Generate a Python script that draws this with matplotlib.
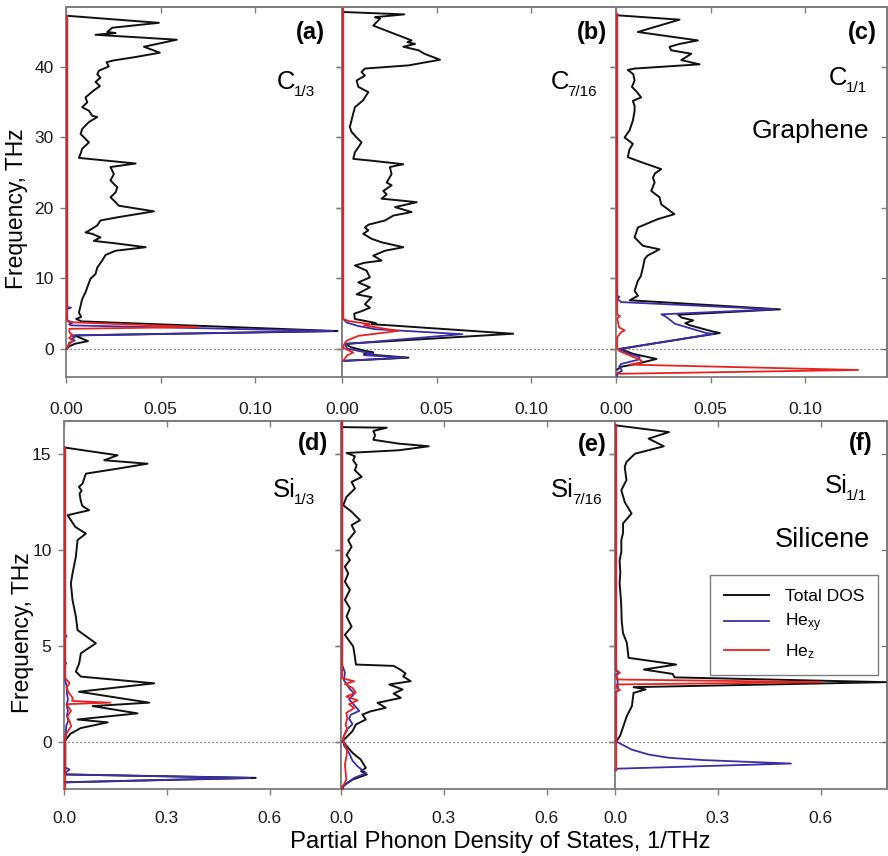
import matplotlib
matplotlib.use("Agg")
import matplotlib.pyplot as plt
from matplotlib import transforms
from matplotlib.lines import Line2D

plt.rcParams["font.family"] = ["Liberation Sans", "DejaVu Sans"]
plt.rcParams["mathtext.fontset"] = "custom"
plt.rcParams["mathtext.rm"] = "Liberation Sans"
plt.rcParams["mathtext.it"] = "Liberation Sans:italic"
plt.rcParams["mathtext.bf"] = "Liberation Sans:bold"

# ---------------- data: frequency (THz) and partial DOS (1/THz) ----------------
# (a) C 1/3
a_total_f = [47.3, 46.3, 45.6, 45.0, 44.85, 44.6, 43.9, 42.9, 42.05, 41.4, 40.96, 40.7, 40.1, 39.5,
             38.97, 38.5, 37.9, 37.3, 36.7, 35.7, 35.0, 34.3, 33.8, 33.1, 32.9, 32.2, 31.2, 30.5,
             29.3, 28.4, 27.7, 27.1, 26.3, 25.8, 24.8, 23.9, 22.9, 22.2, 21.5, 20.8, 20.3, 19.5,
             18.65, 18.2, 17.5, 16.75, 16.5, 16.3, 15.8, 15.3, 14.95, 14.4, 13.9, 13.3, 12.5, 11.5,
             10.6, 9.9, 8.9, 8.0, 7.0, 6.1, 5.1, 4.5, 4.2, 3.86, 2.48, 1.86, 1.05, 0.67, 0.3, 0.0]
a_total_v = [0.0, 0.0485, 0.0238, 0.0212, 0.0256, 0.015, 0.058, 0.0406, 0.049, 0.0353, 0.0247, 0.0208,
             0.022, 0.0168, 0.0159, 0.0176, 0.015, 0.0173, 0.0141, 0.0097, 0.0106, 0.0079, 0.0115,
             0.0132, 0.0159, 0.0115, 0.0079, 0.0071, 0.0115, 0.0079, 0.0071, 0.0062, 0.0362, 0.0229,
             0.0247, 0.0229, 0.0265, 0.0256, 0.0229, 0.0256, 0.0273, 0.0459, 0.0265, 0.0176, 0.0159,
             0.0115, 0.0097, 0.0132, 0.0176, 0.0141, 0.0256, 0.0415, 0.0256, 0.0203, 0.0185, 0.0159,
             0.015, 0.0123, 0.0109, 0.0097, 0.0079, 0.0071, 0.0062, 0.0074, 0.0048, 0.0074, 0.143,
             0.004, 0.011, 0.004, 0.001, 0.0]
a_xy_f = [47.3, 5.9, 5.8, 5.6, 4.0, 3.7, 3.45, 3.29, 2.48, 1.86, 1.6, 1.35, 1.15, 0.8, 0.0]
a_xy_v = [0.0, 0.0, 0.002, 0.0, 0.0, 0.003, 0.001, 0.002, 0.1406, 0.002, 0.004, 0.002, 0.004, 0.001, 0.0]
a_z_f = [47.3, 4.0, 3.75, 3.05, 2.8, 2.4, 2.1, 1.86, 1.5, 1.1, 0.6, 0.0]
a_z_v = [0.0, 0.0, 0.001, 0.069, 0.0012, 0.001, 0.002, 0.003, 0.001, 0.003, 0.001, 0.0]

# (b) C 7/16
b_total_f = [47.84, 47.5, 47.1, 46.9, 45.9, 43.8, 43.55, 43.3, 42.9, 42.4, 41.9, 41.05, 40.25, 39.8,
             39.3, 38.8, 38.1, 37.2, 36.45, 35.7, 35.3, 34.3, 33.4, 31.5, 30.8, 30.0, 29.3, 28.6,
             27.9, 26.96, 26.7, 26.2, 25.8, 24.8, 23.6, 23.2, 22.4, 21.9, 21.3, 21.0, 20.8, 20.1,
             19.4, 18.9, 18.2, 17.6, 17.2, 16.8, 16.3, 15.6, 15.1, 14.4, 13.9, 13.2, 12.5, 12.2,
             11.8, 11.06, 10.1, 9.4, 8.7, 7.7, 7.3, 6.3, 5.8, 5.3, 4.95, 4.2, 3.62, 3.45, 3.3, 2.1,
             0.67, 0.2, -0.3, -0.55, -0.8, -1.3, -1.75]
b_total_v = [0.0, 0.0323, 0.0168, 0.0195, 0.0159, 0.0362, 0.034, 0.038, 0.0318, 0.0398, 0.043, 0.0512,
             0.0345, 0.0115, 0.0097, 0.0115, 0.0071, 0.008, 0.0133, 0.0115, 0.0106, 0.0062, 0.0053,
             0.0035, 0.0044, 0.0071, 0.0097, 0.008, 0.0062, 0.0053, 0.015, 0.0318, 0.0247, 0.0256,
             0.023, 0.0256, 0.0212, 0.023, 0.0203, 0.0318, 0.0389, 0.0274, 0.0362, 0.0265, 0.0221,
             0.0133, 0.0115, 0.0133, 0.0106, 0.015, 0.0203, 0.0318, 0.0221, 0.0159, 0.0203, 0.0115,
             0.0062, 0.0124, 0.0141, 0.008, 0.0141, 0.0071, 0.015, 0.0115, 0.0141, 0.0097, 0.0058,
             0.0062, 0.0173, 0.015, 0.0243, 0.0899, 0.001, 0.004, 0.011, 0.016, 0.011, 0.0345, 0.001]
b_xy_f = [47.84, 4.2, 3.7, 3.2, 2.75, 2.04, 0.62, 0.0, -0.4, -0.75, -0.95, -1.3, -1.75]
b_xy_v = [0.0, 0.0, 0.0018, 0.008, 0.0168, 0.063, 0.001, 0.002, 0.009, 0.016, 0.011, 0.033, 0.0]
b_z_f = [48.3, 4.2, 3.9, 3.46, 3.3, 3.1, 2.5, 1.8, 1.1, 0.6, 0.1, -0.57, -1.0, -1.76]
b_z_v = [0.0, 0.0, 0.003, 0.0141, 0.011, 0.0155, 0.0291, 0.008, 0.0018, 0.0005, 0.0, 0.0053, 0.002, 0.0]

# (c) C 1/1, graphene
c_total_f = [47.37, 46.75, 45.0, 43.8, 43.3, 42.9, 42.4, 41.9, 41.0, 40.4, 39.8, 39.6, 39.0, 38.1,
             37.2, 36.5, 35.7, 35.2, 34.5, 33.8, 32.4, 31.0, 30.0, 29.1, 28.3, 27.2, 26.5, 25.5,
             24.9, 24.3, 23.6, 22.4, 21.5, 20.5, 19.1, 18.4, 17.2, 15.8, 14.6, 14.1, 13.2, 12.7,
             11.5, 10.3, 9.6, 8.2, 7.5, 6.86, 5.57, 4.8, 4.4, 4.0, 3.6, 3.3, 2.4, 2.2, -0.05, -0.76,
             -1.48, -2.19, -2.6, -3.0]
c_total_v = [0.0, 0.033, 0.0109, 0.0427, 0.033, 0.0277, 0.0285, 0.0392, 0.0339, 0.0436, 0.0092,
             0.0056, 0.0085, 0.0092, 0.0078, 0.0103, 0.0127, 0.0083, 0.0092, 0.0092, 0.0083, 0.0065,
             0.0039, 0.0083, 0.0065, 0.0056, 0.0127, 0.0233, 0.02, 0.0189, 0.0198, 0.018, 0.0224,
             0.0233, 0.0303, 0.0215, 0.0109, 0.0092, 0.0136, 0.0224, 0.016, 0.0145, 0.0136, 0.0125,
             0.0109, 0.0092, 0.011, 0.0067, 0.0861, 0.0323, 0.034, 0.0402, 0.036, 0.0385, 0.0508,
             0.0543, 0.0014, 0.0085, 0.0208, 0.0102, 0.002, 0.0]
c_xy_f = [47.37, 7.5, 7.35, 7.1, 6.6, 5.57, 4.86, 4.48, 3.52, 2.19, 2.1, -0.1, -0.7, -1.24, -1.6, -2.2,
          -2.6, -2.9, -3.2, -3.5, -3.9]
c_xy_v = [0.0, 0.0, 0.0012, 0.0, 0.002, 0.0835, 0.0234, 0.026, 0.0305, 0.0473, 0.0508, 0.001, 0.006,
          0.012, 0.011, 0.002, 0.001, 0.002, 0.0025, 0.0, 0.0]
c_z_f = [47.6, 4.8, 4.6, 4.3, 3.0, 2.57, 2.3, 1.6, 0.2, -0.33, -1.28, -1.71, -2.0, -2.29, -3.05, -3.6]
c_z_v = [0.0, 0.0, 0.0015, 0.0, 0.001, 0.004, 0.002, 0.0, 0.0, 0.0009, 0.0092, 0.0129, 0.0124, 0.0067,
         0.1275, 0.0]

# (d) Si 1/3
d_total_f = [15.35, 14.95, 14.69, 14.51, 14.25, 13.99, 13.47, 13.3, 13.1, 12.95, 12.6, 12.3, 12.08,
             11.82, 11.6, 11.2, 10.86, 10.52, 9.65, 8.78, 8.26, 7.39, 6.52, 5.82, 5.13, 4.61, 4.08,
             3.65, 3.39, 3.04, 2.6, 2.03, 1.85, 1.47, 1.15, 1.0, 0.7, 0.4, 0.05, -1.72, -1.9, -2.13]
d_total_v = [0.0, 0.1527, 0.1138, 0.2402, 0.1527, 0.0603, 0.0506, 0.04, 0.048, 0.042, 0.045, 0.05,
             0.07, 0.0068, 0.015, 0.03, 0.0603, 0.036, 0.0311, 0.0214, 0.0165, 0.0214, 0.0311, 0.036,
             0.0895, 0.0457, 0.0408, 0.0311, 0.0457, 0.2597, 0.04, 0.245, 0.08, 0.211, 0.036, 0.124,
             0.045, 0.015, 0.0, 0.0, 0.556, 0.0]
d_xy_f = [15.35, 5.6, 5.5, 5.4, 4.15, 4.1, 4.0, 3.2, 2.9, 2.5, 2.2, 1.9, 1.6, 1.35, 1.1, 0.8, 0.0,
          -1.35, -1.46, -1.6, -1.72, -1.9, -2.13, -2.2]
d_xy_v = [0.0, 0.0, 0.004, 0.0, 0.0, 0.003, 0.0, 0.0, 0.004, 0.005, 0.008, 0.004, 0.008, 0.005, 0.009,
          0.003, 0.0, 0.0, 0.0126, 0.003, 0.0, 0.54, 0.0, 0.0]
d_z_f = [15.35, 3.3, 3.07, 2.8, 2.5, 2.28, 2.12, 2.03, 1.95, 1.6, 1.3, 1.1, 0.8, 0.4, 0.0, -2.48]
d_z_v = [0.0, 0.0, 0.0126, 0.004, 0.012, 0.022, 0.02, 0.132, 0.004, 0.017, 0.006, 0.012, 0.0175, 0.003,
         0.0, 0.0]

# (e) Si 7/16
e_total_f = [16.42, 16.39, 16.22, 15.99, 15.76, 15.56, 15.42, 15.21, 15.07, 14.9, 14.69, 14.43, 14.17,
             13.82, 13.56, 13.21, 12.78, 12.34, 12.0, 11.56, 11.3, 10.95, 10.52, 10.17, 9.74, 9.48,
             9.13, 8.78, 8.35, 7.92, 7.4, 6.96, 6.53, 6.0, 5.57, 4.97, 4.44, 4.02, 3.95, 3.75, 3.55,
             3.4, 3.15, 2.98, 2.72, 2.5, 2.28, 2.02, 1.76, 1.58, 1.41, 1.15, 0.89, 0.54, 0.02, -0.59,
             -0.94, -1.38, -1.55, -1.72, -1.99, -2.3, -2.48]
e_total_v = [0.0, 0.13, 0.091, 0.096, 0.091, 0.164, 0.2526, 0.1645, 0.0127, 0.037, 0.032, 0.042, 0.037,
             0.0568, 0.0274, 0.0372, 0.0127, 0.003, 0.0274, 0.0519, 0.0274, 0.0372, 0.0176, 0.0274,
             0.0127, 0.0225, 0.0078, 0.0176, 0.0078, 0.0225, 0.0078, 0.0225, 0.0127, 0.0274, 0.0078,
             0.032, 0.037, 0.04, 0.15, 0.17, 0.185, 0.178, 0.2, 0.137, 0.176, 0.15, 0.171, 0.103,
             0.127, 0.0835, 0.059, 0.069, 0.04, 0.03, 0.001, 0.03, 0.054, 0.069, 0.055, 0.072, 0.03,
             0.005, 0.0]
e_xy_f = [16.74, 4.0, 3.6, 3.2, 2.8, 2.5, 2.2, 1.9, 1.6, 1.4, 1.2, 0.9, 0.6, 0.2, -0.2, -0.6, -1.0,
          -1.3, -1.65, -1.9, -2.1, -2.35, -2.48]
e_xy_v = [0.0, 0.0, 0.008, 0.005, 0.02, 0.035, 0.02, 0.035, 0.05, 0.025, 0.02, 0.03, 0.012, 0.003,
          0.005, 0.02, 0.03, 0.045, 0.07, 0.035, 0.02, 0.0, 0.0]
e_z_f = [16.74, 3.3, 3.15, 3.0, 2.8, 2.55, 2.35, 2.15, 1.95, 1.75, 1.5, 1.2, 0.9, 0.6, 0.3, 0.0, -0.4,
         -0.8, -1.2, -1.6, -2.0, -2.4, -2.48]
e_z_v = [0.0, 0.0, 0.035, 0.008, 0.03, 0.04, 0.012, 0.045, 0.02, 0.035, 0.012, 0.015, 0.01, 0.015,
         0.005, 0.003, 0.015, 0.012, 0.008, 0.01, 0.012, 0.0, 0.0]

# (f) Si 1/1, silicene
f_total_f = [16.51, 16.16, 15.82, 15.42, 15.03, 14.6, 14.34, 13.65, 13.13, 12.5, 11.91, 11.39, 10.9,
             10.52, 9.9, 9.48, 8.8, 8.26, 7.6, 7.05, 6.3, 5.66, 5.16, 4.37, 4.02, 3.76, 3.53, 3.35,
             3.1, 2.84, 2.72, 2.54, 1.85, 1.33, 0.8, 0.28, 0.0]
f_total_v = [0.0, 0.154, 0.0945, 0.139, 0.0547, 0.0299, 0.0249, 0.0299, 0.0149, 0.025, 0.0448, 0.0199,
             0.02, 0.0149, 0.015, 0.01, 0.012, 0.01, 0.013, 0.0149, 0.016, 0.0199, 0.031, 0.036,
             0.175, 0.0806, 0.165, 0.17, 0.787, 0.0507, 0.0856, 0.0507, 0.0458, 0.031, 0.021, 0.011,
             0.0]
f_xy_f = [16.51, 3.7, 3.6, 3.5, 3.25, 3.0, 2.7, 2.6, 0.0, -0.42, -0.68, -0.85, -0.97, -1.15, -1.42, -1.5]
f_xy_v = [0.0, 0.0, 0.006, 0.0, 0.004, 0.004, 0.006, 0.0, 0.0, 0.045, 0.0945, 0.154, 0.254, 0.51, 0.0,
          0.0]
f_z_f = [16.51, 3.75, 3.59, 3.45, 3.24, 3.1, 2.98, 2.8, 2.7, 2.6, -1.5]
f_z_v = [0.0, 0.0, 0.011, 0.0, 0.001, 0.598, 0.001, 0.0, 0.011, 0.0, 0.0]

top_xticks = [0.0, 0.05, 0.10]
top_xticklabels = ["0.00", "0.05", "0.10"]
bot_xticks = [0.0, 0.3, 0.6]
bot_xticklabels = ["0.0", "0.3", "0.6"]
top_yticks = [0, 10, 20, 30, 40]
bot_yticks = [0, 5, 10, 15]
panel_tags = ["(a)", "(b)", "(c)", "(d)", "(e)", "(f)"]
panel_elements = ["C", "C", "C", "Si", "Si", "Si"]
panel_fractions = ["1/3", "7/16", "1/1", "1/3", "7/16", "1/1"]
legend_labels = ["Total DOS", r"He$_{\mathrm{xy}}$", r"He$_{\mathrm{z}}$"]

# ---------------- figure ----------------
W, H = 888, 856
fig = plt.figure(figsize=(W / 100, H / 100), dpi=100)

SPINE = "#7d7d7d"
C_TOT, C_XY, C_Z = "#111111", "#3a2fa8", "#e8231f"


def ftext(x, y, s, **kw):
    return fig.text(x / W, 1 - y / H, s, **kw)


def make_axes(x0, x1, y0, y1):
    return fig.add_axes([x0 / W, 1 - y1 / H, (x1 - x0) / W, (y1 - y0) / H])


# column edges (px) and row edges (px)
top_cols = [66, 342, 616, 887]
bot_cols = [64, 341, 615, 887]
top_rows = (7, 377)
bot_rows = (421, 789)
top_px_per_unit = 94.5 / 0.05
bot_px_per_unit = 102.8 / 0.3
top_ylim = (-4.05, 48.55)
bot_ylim = (-2.48, 16.74)

series = [
    (a_total_f, a_total_v, a_xy_f, a_xy_v, a_z_f, a_z_v),
    (b_total_f, b_total_v, b_xy_f, b_xy_v, b_z_f, b_z_v),
    (c_total_f, c_total_v, c_xy_f, c_xy_v, c_z_f, c_z_v),
    (d_total_f, d_total_v, d_xy_f, d_xy_v, d_z_f, d_z_v),
    (e_total_f, e_total_v, e_xy_f, e_xy_v, e_z_f, e_z_v),
    (f_total_f, f_total_v, f_xy_f, f_xy_v, f_z_f, f_z_v),
]

axes = []
for i in range(6):
    row = i // 3
    col = i % 3
    cols = top_cols if row == 0 else bot_cols
    rows = top_rows if row == 0 else bot_rows
    ax = make_axes(cols[col], cols[col + 1], rows[0], rows[1])
    axes.append(ax)
    ppu = top_px_per_unit if row == 0 else bot_px_per_unit
    ax.set_xlim(0, (cols[col + 1] - cols[col]) / ppu)
    ax.set_ylim(*(top_ylim if row == 0 else bot_ylim))

    tf, tv, xf, xv, zf, zv = series[i]
    shift = transforms.offset_copy(ax.transData, fig=fig, x=1.2, y=0, units="dots")
    ax.plot(tv, tf, color=C_TOT, lw=1.4, zorder=3, transform=shift, clip_on=False)
    ax.plot(xv, xf, color=C_XY, lw=1.3, zorder=4, transform=shift, clip_on=False)
    ax.plot(zv, zf, color=C_Z, lw=1.3, zorder=5, transform=shift, clip_on=False)
    ax.axhline(0, color="#555555", lw=0.9, ls=(0, (1, 2.2)), zorder=2)

    xt = top_xticks if row == 0 else bot_xticks
    xl = top_xticklabels if row == 0 else bot_xticklabels
    yt = top_yticks if row == 0 else bot_yticks
    ax.set_xticks(xt)
    ax.set_xticklabels(xl)
    ax.set_yticks(yt)
    if col == 0:
        ax.set_yticklabels([str(v) for v in yt])
    else:
        ax.set_yticklabels([])
    ax.tick_params(axis="both", direction="out", length=4, width=1.0, color=SPINE,
                   labelsize=12.5, labelcolor="#1a1a1a")
    ax.tick_params(axis="x", pad=14 if row == 0 else 11.5)
    ax.tick_params(axis="y", pad=5)
    for s in ax.spines.values():
        s.set_color(SPINE)
        s.set_linewidth(1.3)

    sx = ax.secondary_xaxis("top")
    sx.set_xticks(xt)
    sx.tick_params(direction="in", length=4, width=1.0, color=SPINE, labeltop=False)
    sx.spines["top"].set_color(SPINE)
    sx.spines["top"].set_linewidth(1.3)
    sy = ax.secondary_yaxis("right")
    sy.set_yticks(yt)
    sy.tick_params(direction="in", length=4, width=1.0, color=SPINE, labelright=False)
    sy.spines["right"].set_color(SPINE)
    sy.spines["right"].set_linewidth(1.3)

# panel tags (bold)
tag_pos = [(325, 33), (607, 32), (877, 32), (328, 443), (607, 444), (872, 443)]
for (x, y), t in zip(tag_pos, panel_tags):
    ftext(x, y, t, fontsize=17, fontweight="bold", ha="right", va="center")

# composition labels: element symbol with a small lowered fraction
renderer = fig.canvas.get_renderer()
name_pos = [(315, 89), (597, 89), (867, 85), (315, 497), (602, 497), (867, 493)]
for (x, y), el, fr in zip(name_pos, panel_elements, panel_fractions):
    sub = ftext(x, y + 7, fr, fontsize=11, ha="right", va="baseline")
    sub_w = sub.get_window_extent(renderer).width
    ftext(x - sub_w + 1.5, y, el, fontsize=18.5, ha="right", va="baseline")

ftext(869, 138, "Graphene", fontsize=19, ha="right", va="baseline")
ftext(870, 547, "Silicene", fontsize=19.5, ha="right", va="baseline")

# axis titles
ftext(16, 209, "Frequency, THz", fontsize=16.5, rotation=90, ha="center", va="center")
ftext(22, 633, "Frequency, THz", fontsize=16.5, rotation=90, ha="center", va="center")
ftext(500, 842, "Partial Phonon Density of States, 1/THz", fontsize=17.2, ha="center",
      va="center")

# legend in panel (f)
handles = [Line2D([], [], color=C_TOT, lw=1.4), Line2D([], [], color=C_XY, lw=1.3),
           Line2D([], [], color=C_Z, lw=1.3)]
axf = axes[5]
leg = axf.legend(handles, legend_labels, loc="upper left",
                 bbox_to_anchor=((710 - 615) / 272, (789 - 575) / 368), borderaxespad=0,
                 fontsize=12.5, fancybox=False, framealpha=1, edgecolor=SPINE,
                 handlelength=2.6, handletextpad=0.9, borderpad=0.8, labelspacing=0.45)
leg.get_frame().set_linewidth(1.0)

fig.savefig("out.png", dpi=100)
